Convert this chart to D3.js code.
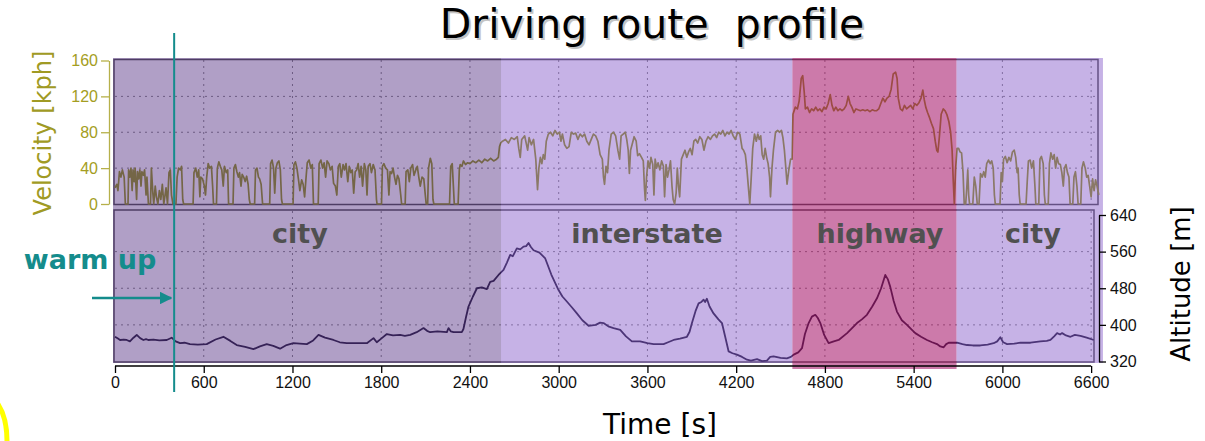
<!DOCTYPE html>
<html>
<head>
<meta charset="utf-8">
<script src="https://cdn.jsdelivr.net/npm/d3@7"></script>
<style>
  body { margin: 0; background: #fff; }
  svg { display: block; }
</style>
</head>
<body>
<div id="chart"></div>
<script>

// DATA
let velocity = [[0,18],[12,22],[20,15],[30,36],[40,30],[50,38],[62,30],[70,0],[88,0],[92,38],[100,30],[108,40],[116,15],[122,38],[130,25],[136,40],[146,5],[152,36],[160,28],[168,38],[176,20],[182,36],[192,32],[200,38],[210,10],[216,30],[226,0],[240,0],[246,40],[256,12],[262,0],[272,20],[280,8],[290,0],[300,15],[310,5],[320,22],[330,0],[345,18],[355,0],[365,35],[374,38],[382,10],[392,0],[412,0],[420,30],[430,40],[442,38],[450,42],[458,5],[464,0],[528,0],[534,35],[546,40],[556,30],[566,38],[574,8],[580,30],[592,28],[604,20],[612,10],[620,30],[630,45],[640,40],[652,42],[660,20],[666,0],[686,0],[692,40],[702,47],[712,42],[722,38],[732,20],[740,42],[752,35],[762,38],[768,0],[798,0],[804,40],[814,44],[824,36],[834,30],[842,35],[852,20],[860,33],[870,30],[880,25],[890,31],[900,22],[908,5],[914,0],[944,0],[950,38],[960,40],[970,30],[978,28],[988,22],[998,0],[1046,0],[1052,45],[1062,49],[1072,40],[1080,12],[1088,40],[1098,46],[1108,48],[1118,38],[1126,5],[1132,0],[1204,0],[1210,44],[1220,47],[1230,40],[1240,28],[1250,15],[1262,27],[1272,22],[1282,8],[1292,30],[1300,46],[1312,49],[1324,40],[1334,44],[1342,0],[1374,0],[1380,45],[1392,49],[1404,40],[1414,46],[1424,30],[1434,48],[1446,45],[1456,38],[1468,42],[1478,23],[1490,20],[1500,10],[1510,42],[1520,45],[1530,30],[1542,44],[1552,38],[1562,45],[1574,25],[1584,42],[1594,35],[1604,38],[1614,12],[1624,36],[1634,38],[1644,45],[1654,30],[1664,42],[1674,20],[1686,45],[1696,38],[1704,10],[1712,42],[1724,45],[1734,35],[1746,44],[1758,38],[1768,5],[1772,0],[1802,0],[1808,42],[1818,45],[1830,40],[1842,38],[1852,10],[1860,36],[1870,34],[1880,40],[1890,30],[1900,22],[1910,32],[1920,28],[1932,10],[1938,0],[1962,0],[1968,36],[1980,38],[1990,25],[2000,40],[2012,44],[2022,32],[2034,38],[2044,42],[2054,30],[2064,20],[2076,30],[2088,28],[2098,10],[2104,0],[2114,0],[2120,40],[2132,51],[2142,45],[2150,5],[2156,0],[2262,0],[2270,42],[2280,45],[2288,20],[2294,0],[2320,0],[2328,38],[2334,44],[2346,42],[2356,48],[2370,44],[2384,46],[2400,45],[2420,48],[2440,46],[2460,49],[2480,46],[2500,50],[2520,48],[2540,51],[2560,48],[2580,50],[2592,52],[2600,64],[2608,68],
  [2620,70],[2640,72],[2660,68],[2680,74],[2700,72],[2720,75],[2730,62],[2740,52],[2750,72],[2770,76],[2790,60],[2800,74],[2815,66],[2830,72],[2845,50],[2857,16],[2866,40],[2876,52],[2886,45],[2896,55],[2906,50],[2916,70],[2930,78],[2945,80],[2960,76],[2975,82],[2990,78],[3005,80],[3015,70],[3025,78],[3040,66],[3055,62],[3070,64],[3085,80],[3100,78],[3115,79],[3130,72],[3145,78],[3160,75],[3175,78],[3190,70],[3205,66],[3220,72],[3235,78],[3250,76],[3265,70],[3280,55],[3295,50],[3303,30],[3310,22],[3320,42],[3330,35],[3340,60],[3355,78],[3370,80],[3385,76],[3400,60],[3412,50],[3422,76],[3436,78],[3450,80],[3460,72],[3470,60],[3478,34],[3486,60],[3496,66],[3510,75],[3524,70],[3534,54],[3546,56],[3560,52],[3572,48],[3580,18],[3586,4],[3594,30],[3604,48],[3614,40],[3624,52],[3636,44],[3644,10],[3652,50],[3662,40],[3672,46],[3684,38],[3696,48],[3708,42],[3716,8],[3726,44],[3736,30],[3746,38],[3756,48],[3766,20],[3774,5],[3784,0],[3794,12],[3802,40],[3810,20],[3818,8],[3830,50],[3842,55],[3854,60],[3866,52],[3878,58],[3890,62],[3902,55],[3914,70],[3926,72],[3940,68],[3954,75],[3968,72],[3982,60],[3996,70],[4010,75],[4026,72],[4040,76],[4054,78],[4068,74],[4082,80],[4096,78],[4110,82],[4124,76],[4138,80],[4152,78],[4166,82],[4180,76],[4194,72],[4210,80],[4225,78],[4240,62],[4250,60],[4262,55],[4272,40],[4282,20],[4292,0],[4302,30],[4312,62],[4324,78],[4336,70],[4346,78],[4356,72],[4366,76],[4376,55],[4386,50],[4396,62],[4406,52],[4416,45],[4426,30],[4432,8],[4442,40],[4452,60],[4466,80],[4480,82],[4494,80],[4506,82],[4516,74],[4526,60],[4536,40],[4544,22],[4556,38],[4568,50],[4578,50],
  [4584,100],[4600,108],[4614,106],[4626,115],[4640,140],[4650,143],[4660,125],[4668,106],[4682,108],[4696,102],[4710,106],[4724,104],[4738,108],[4752,104],[4766,106],[4780,103],[4794,108],[4808,106],[4822,112],[4836,122],[4848,110],[4860,104],[4874,108],[4888,104],[4902,106],[4916,104],[4930,106],[4944,110],[4958,120],[4970,112],[4982,108],[4996,102],[5010,106],[5024,105],[5040,104],[5056,105],[5072,104],[5088,105],[5104,103],[5120,105],[5136,104],[5150,104],[5164,106],[5178,112],[5192,118],[5206,114],[5220,118],[5234,120],[5248,128],[5262,145],[5278,147],[5288,140],[5296,118],[5310,106],[5324,104],[5338,110],[5352,106],[5366,108],[5380,110],[5394,106],[5408,112],[5422,110],[5436,113],[5450,118],[5462,127],[5472,116],[5482,108],[5494,102],[5508,96],[5520,90],[5534,84],[5546,70],[5556,60],[5564,58],[5574,75],[5586,100],[5600,106],[5612,104],[5624,100],[5638,92],[5650,80],[5660,60],[5668,25],[5675,0],
  [5684,40],[5694,62],[5704,62],[5714,58],[5724,57],[5734,35],[5742,0],[5752,0],[5760,20],[5766,38],[5772,10],[5778,0],[5800,0],[5810,30],[5820,20],[5830,0],[5842,0],[5852,34],[5864,30],[5874,36],[5884,30],[5894,45],[5906,49],[5918,45],[5928,48],[5938,40],[5946,10],[5952,0],[5984,0],[5992,35],[6000,25],[6008,50],[6020,53],[6032,46],[6044,52],[6056,48],[6068,58],[6080,60],[6090,52],[6100,35],[6106,40],[6114,10],[6120,0],[6160,0],[6168,25],[6176,48],[6188,49],[6198,40],[6210,48],[6220,20],[6226,0],[6246,0],[6254,50],[6264,53],[6276,45],[6284,10],[6290,0],[6310,0],[6318,45],[6328,57],[6340,50],[6350,55],[6360,40],[6370,52],[6380,45],[6392,44],[6402,35],[6412,20],[6420,40],[6430,44],[6440,35],[6450,30],[6458,0],[6476,0],[6484,30],[6494,36],[6504,20],[6512,0],[6530,0],[6538,40],[6548,47],[6560,40],[6570,30],[6580,32],[6590,20],[6600,8],[6610,28],[6620,15],[6630,27],[6640,20],[6652,10]];

let altitude = [[0,374],[20,370],[34,367],[60,368],[79,367],[101,364],[125,372],[147,378],[170,371],[192,367],[210,369],[225,367],[260,368],[300,366],[350,367],[383,372],[410,364],[440,360],[470,361],[507,358],[560,357],[620,358],[680,368],[733,374],[780,365],[823,356],[880,352],[936,347],[980,353],[1026,358],[1070,354],[1116,348],[1160,356],[1206,360],[1250,359],[1297,358],[1340,366],[1376,378],[1420,372],[1477,367],[1520,362],[1567,360],[1640,360],[1703,360],[1748,371],[1770,362],[1800,370],[1838,380],[1880,377],[1928,378],[1960,376],[1996,378],[2040,384],[2086,393],[2110,387],[2131,384],[2180,386],[2244,384],[2255,393],[2270,386],[2289,384],[2345,384],[2356,391],[2372,415],[2390,440],[2420,462],[2447,480],[2480,482],[2514,478],[2537,494],[2560,496],[2593,509],[2627,520],[2650,536],[2672,553],[2690,550],[2717,567],[2740,565],[2762,571],[2780,572],[2796,579],[2812,570],[2830,563],[2870,558],[2909,545],[2950,510],[2999,476],[3025,462],[3055,451],[3090,438],[3123,425],[3160,410],[3202,398],[3250,400],[3280,405],[3303,404],[3340,396],[3371,393],[3416,389],[3455,375],[3495,364],[3551,364],[3600,360],[3642,358],[3709,358],[3740,362],[3777,367],[3820,370],[3867,374],[3885,385],[3901,404],[3925,430],[3946,447],[3965,450],[3980,455],[3990,450],[4002,457],[4020,440],[4047,425],[4080,412],[4104,404],[4125,375],[4149,342],[4175,338],[4205,335],[4240,330],[4273,324],[4300,322],[4341,325],[4375,321],[4408,322],[4430,330],[4453,331],[4500,328],[4543,327],[4570,330],[4589,335],[4620,340],[4645,349],[4665,380],[4690,404],[4712,418],[4735,422],[4752,415],[4769,404],[4795,378],[4825,360],[4860,364],[4893,367],[4950,382],[5017,404],[5050,412],[5084,422],[5120,440],[5152,458],[5180,480],[5208,509],[5225,500],[5242,483],[5265,452],[5287,429],[5320,410],[5355,400],[5385,390],[5411,382],[5450,374],[5490,367],[5525,362],[5558,358],[5580,353],[5603,351],[5620,358],[5637,361],[5693,361],[5730,358],[5761,356],[5800,355],[5851,355],[5900,357],[5941,360],[5965,364],[5986,373],[6005,362],[6032,358],[6080,359],[6122,361],[6190,361],[6257,364],[6300,365],[6325,367],[6350,375],[6370,382],[6390,379],[6404,382],[6430,377],[6460,374],[6490,378],[6528,376],[6570,372],[6618,367]];

let timeTicks = [0, 600, 1200, 1800, 2400, 3000, 3600, 4200, 4800, 5400, 6000, 6600];
let velTicks = [0, 40, 80, 120, 160];
let altTicks = [320, 400, 480, 560, 640];

let bandNames = ["city", "interstate", "highway", "city"];
let bandStart = [0, 2610, 4580, 5690];
let bandEnd = [2610, 4580, 5690, 6680];
let warmUpTime = 400;

// CHART AREA
let width = 1205, height = 441;

let svg = d3.select("#chart").append("svg")
    .attr("width", width)
    .attr("height", height);

svg.append("rect").attr("width", width).attr("height", height).attr("fill", "#fff");

// SCALES
let x = d3.scaleLinear().domain([0, 6660]).range([115, 1100]);
let yVel = d3.scaleLinear().domain([0, 160]).range([204, 60.5]);
let yAlt = d3.scaleLinear().domain([320, 640]).range([361.5, 215]);

// GRID
let grid = svg.append("g").attr("stroke", "#777").attr("stroke-dasharray", "2,4").attr("stroke-width", 1);

timeTicks.slice(1).forEach(t => {
    grid.append("line").attr("x1", x(t)).attr("x2", x(t)).attr("y1", 60).attr("y2", 204);
    grid.append("line").attr("x1", x(t)).attr("x2", x(t)).attr("y1", 211).attr("y2", 361);
});
[40, 80, 120].forEach(v => {
    grid.append("line").attr("x1", 115).attr("x2", 1097).attr("y1", yVel(v)).attr("y2", yVel(v));
});
[400, 480, 560].forEach(a => {
    grid.append("line").attr("x1", 115).attr("x2", 1093).attr("y1", yAlt(a)).attr("y2", yAlt(a));
});

// PANEL FRAMES
svg.append("rect")
    .attr("x", 114).attr("y", 59.5).attr("width", 984).attr("height", 145)
    .attr("fill", "none").attr("stroke", "#3a3a3a").attr("stroke-width", 1.5);
svg.append("rect")
    .attr("x", 114).attr("y", 210).attr("width", 980).attr("height", 152)
    .attr("fill", "none").attr("stroke", "#3a3a3a").attr("stroke-width", 1.5);

// LINES
let velLine = d3.line().x(d => x(d[0])).y(d => yVel(d[1]));
let altLine = d3.line().x(d => x(d[0])).y(d => yAlt(d[1]));

svg.append("path")
    .datum(velocity)
    .attr("d", velLine)
    .attr("fill", "none")
    .attr("stroke", "#878c00")
    .attr("stroke-width", 1.7)
    .attr("stroke-linejoin", "round");

svg.append("path")
    .datum(altitude)
    .attr("d", altLine)
    .attr("fill", "none")
    .attr("stroke", "#0a0420")
    .attr("stroke-width", 1.8)
    .attr("stroke-linejoin", "round");

// ROUTE BANDS (semi transparent overlay)
let bandColor = ["#613f8d", "#8d65cd", "#aa2171", "#8d65cd"];
let bandAlpha = [0.5, 0.5, 0.6, 0.5];

svg.append("g").selectAll(".band")
    .data(bandNames)
    .enter()
    .append("rect")
    .attr("class", "band")
    .attr("x", (d, i) => i == 0 ? 113 : x(bandStart[i]))
    .attr("y", 58)
    .attr("width", (d, i) => x(bandEnd[i]) - (i == 0 ? 113 : x(bandStart[i])))
    .attr("height", (d, i) => i == 2 ? 311 : 305)
    .attr("fill", (d, i) => bandColor[i])
    .attr("fill-opacity", (d, i) => bandAlpha[i]);

// AXES
let fmt = d3.format("d");
let xAxis = d3.axisBottom(x).tickValues(timeTicks).tickFormat(fmt).tickSize(7).tickSizeOuter(0).tickPadding(4);
let velAxis = d3.axisLeft(yVel).tickValues(velTicks).tickFormat(fmt).tickSize(8).tickSizeOuter(0).tickPadding(3);
let altAxis = d3.axisRight(yAlt).tickValues(altTicks).tickFormat(fmt).tickSize(7).tickSizeOuter(0).tickPadding(4);

let xAxisGroup = svg.append("g")
    .attr("transform", "translate(0,366)")
    .call(xAxis);
xAxisGroup.select(".domain").attr("d", "M" + x(0) + ",0H" + x(6600));

let velAxisGroup = svg.append("g")
    .attr("transform", "translate(109,0)")
    .call(velAxis);

let altAxisGroup = svg.append("g")
    .attr("transform", "translate(1099,0)")
    .call(altAxis);

[xAxisGroup, velAxisGroup, altAxisGroup].forEach(g => {
    g.selectAll("text").style("font-family", "'Liberation Sans', Arial, sans-serif").style("font-size", "16px");
    g.selectAll("path, line").attr("stroke-width", 1.3);
});
xAxisGroup.selectAll("text").attr("fill", "#111");
altAxisGroup.selectAll("text").attr("fill", "#111");
velAxisGroup.selectAll("text").attr("fill", "#a49d22");
velAxisGroup.selectAll("path, line").attr("stroke", "#b6b04a");

// AXIS TITLES
svg.append("text")
    .attr("transform", "translate(51,133) rotate(-90)")
    .attr("text-anchor", "middle")
    .style("font-family", "'DejaVu Sans', sans-serif")
    .style("font-size", "24px")
    .attr("fill", "#a09a24")
    .text("Velocity [kph]");

svg.append("text")
    .attr("transform", "translate(1190,284) rotate(-90)")
    .attr("text-anchor", "middle")
    .style("font-family", "'DejaVu Sans', sans-serif")
    .style("font-size", "26px")
    .attr("fill", "#000")
    .text("Altitude [m]");

svg.append("text")
    .attr("x", 660).attr("y", 434)
    .attr("text-anchor", "middle")
    .style("font-family", "'DejaVu Sans', sans-serif")
    .style("font-size", "28px")
    .attr("fill", "#000")
    .text("Time [s]");

// TITLE (with soft shadow)
svg.append("text")
    .attr("x", 654).attr("y", 40)
    .attr("text-anchor", "middle")
    .style("font-family", "'DejaVu Sans', sans-serif")
    .style("font-size", "41px")
    .attr("fill", "#c4c4c4")
    .text("Driving route\u00a0 profile");
svg.append("text")
    .attr("x", 652).attr("y", 38)
    .attr("text-anchor", "middle")
    .style("font-family", "'DejaVu Sans', sans-serif")
    .style("font-size", "41px")
    .attr("fill", "#000")
    .text("Driving route\u00a0 profile");

// BAND LABELS
let bandLabelX = [300, 647, 880, 1033];
svg.append("g").selectAll(".band-label")
    .data(bandNames)
    .enter()
    .append("text")
    .attr("class", "band-label")
    .attr("x", (d, i) => bandLabelX[i])
    .attr("y", 243)
    .attr("text-anchor", "middle")
    .style("font-family", "'DejaVu Sans', sans-serif")
    .style("font-weight", "bold")
    .style("font-size", "27px")
    .attr("fill", "#505050")
    .text(d => d);

// WARM UP MARKER
let teal = "#148c8c";
svg.append("line")
    .attr("x1", x(warmUpTime)).attr("x2", x(warmUpTime))
    .attr("y1", 33).attr("y2", 392)
    .attr("stroke", teal).attr("stroke-width", 2);

svg.append("defs").append("marker")
    .attr("id", "arrow")
    .attr("viewBox", "0 0 10 10")
    .attr("refX", 9).attr("refY", 5)
    .attr("markerWidth", 5).attr("markerHeight", 5)
    .attr("orient", "auto")
    .append("path")
    .attr("d", "M0,0L10,5L0,10z")
    .attr("fill", teal);

svg.append("line")
    .attr("x1", 92).attr("x2", x(warmUpTime) - 3)
    .attr("y1", 298).attr("y2", 298)
    .attr("stroke", teal).attr("stroke-width", 2.5)
    .attr("marker-end", "url(#arrow)");

svg.append("text")
    .attr("x", 90).attr("y", 269)
    .attr("text-anchor", "middle")
    .style("font-family", "'DejaVu Sans', sans-serif")
    .style("font-weight", "bold")
    .style("font-size", "27px")
    .attr("fill", teal)
    .text("warm up");

// yellow highlight edge, bottom left corner
svg.append("path")
    .attr("d", "M-2,404Q7,418 7,441")
    .attr("fill", "none")
    .attr("stroke", "#ffff00")
    .attr("stroke-width", 5);

</script>
</body>
</html>
